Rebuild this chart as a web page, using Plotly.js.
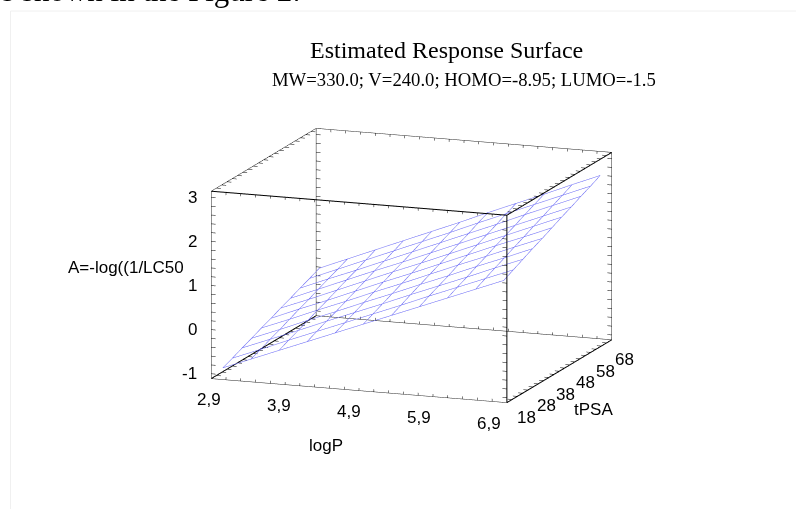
<!DOCTYPE html>
<html><head><meta charset="utf-8">
<script src="https://cdn.plot.ly/plotly-3.0.1.min.js"></script>
<style>html,body{margin:0;padding:0;background:#fff}#c{width:796px;height:509px}</style>
</head><body><div id="c"></div>
<script>
const logPGrid = [3.0,3.38,3.76,4.14,4.52,4.9,5.28,5.66,6.04,6.42,6.8];
const tPSAGrid = [20,24.6,29.2,33.8,38.4,43,47.6,52.2,56.8,61.4,66];
const responseZ = [
 [-0.91,-0.66,-0.41,-0.16,0.09,0.34,0.59,0.84,1.09,1.34,1.59],
 [-0.82,-0.57,-0.31,-0.06,0.19,0.44,0.69,0.95,1.20,1.45,1.70],
 [-0.72,-0.47,-0.22,0.04,0.29,0.54,0.80,1.05,1.30,1.56,1.81],
 [-0.63,-0.38,-0.12,0.13,0.39,0.64,0.90,1.15,1.41,1.66,1.92],
 [-0.53,-0.28,-0.02,0.23,0.49,0.74,1.00,1.26,1.51,1.77,2.02],
 [-0.44,-0.18,0.07,0.33,0.59,0.84,1.10,1.36,1.62,1.87,2.13],
 [-0.34,-0.09,0.17,0.43,0.69,0.94,1.20,1.46,1.72,1.98,2.24],
 [-0.25,0.01,0.27,0.53,0.78,1.04,1.30,1.56,1.82,2.08,2.34],
 [-0.15,0.11,0.36,0.62,0.88,1.14,1.40,1.66,1.93,2.19,2.45],
 [-0.06,0.20,0.46,0.72,0.98,1.24,1.51,1.77,2.03,2.29,2.55],
 [0.04,0.30,0.56,0.82,1.08,1.34,1.61,1.87,2.13,2.40,2.66]
];
const logPTicks = [2.9,3.9,4.9,5.9,6.9];
const logPLabels = ['2,9','3,9','4,9','5,9','6,9'];
const tPSATicks = [18,28,38,48,58,68];
const zTicks = [-1,0,1,2,3];
const xRange=[2.9,6.9], yRange=[18,68], zRange=[-1.11,3.14];
const zMinor=[];for(let v=-10;v<=31;v+=2)zMinor.push(v/10);
const xMinor=[];for(let v=29;v<=69;v+=2)xMinor.push(v/10);
const yMinor=[];for(let v=18;v<=68;v+=2.5)yMinor.push(v);

const [x0,x1]=xRange,[y0,y1]=yRange,[z0,z1]=zRange;
function path(pts){const o={x:[],y:[],z:[]};pts.forEach(s=>{s.forEach(p=>{o.x.push(p[0]);o.y.push(p[1]);o.z.push(p[2]);});o.x.push(null);o.y.push(null);o.z.push(null);});return o;}
// wireframe
const wire=[];
tPSAGrid.forEach((t,j)=>wire.push(logPGrid.map((p,i)=>[p,t,responseZ[j][i]])));
logPGrid.forEach((p,i)=>wire.push(tPSAGrid.map((t,j)=>[p,t,responseZ[j][i]])));
// box edges
const thin=[
 [[x0,y0,z0],[x1,y0,z0]],[[x0,y1,z0],[x1,y1,z0]],[[x0,y1,z1],[x1,y1,z1]],
 [[x0,y0,z0],[x0,y0,z1]],[[x0,y1,z0],[x0,y1,z1]],[[x1,y1,z0],[x1,y1,z1]],
 [[x0,y0,z1],[x0,y1,z1]]];
const heavy=[
 [[x0,y0,z1],[x1,y0,z1]],[[x1,y0,z0],[x1,y0,z1]],[[x1,y0,z1],[x1,y1,z1]],
 [[x0,y0,z0],[x0,y1,z0]],[[x1,y0,z0],[x1,y1,z0]]];
// tick marks on every edge
const tk=[];const dx=0.06,dz=0.06;
zMinor.forEach(v=>{[[x0,y0,1],[x0,y1,1],[x1,y0,-1],[x1,y1,-1]].forEach(e=>tk.push([[e[0],e[1],v],[e[0]+e[2]*dx,e[1],v]]));});
yMinor.forEach(v=>{[[x0,z0,1],[x0,z1,1],[x1,z0,-1],[x1,z1,-1]].forEach(e=>tk.push([[e[0],v,e[1]],[e[0]+e[2]*dx,v,e[1]]]));});
xMinor.forEach(v=>{[[y0,z0,1],[y0,z1,-1],[y1,z0,1],[y1,z1,-1]].forEach(e=>tk.push([[v,e[0],e[1]],[v,e[0],e[1]+e[2]*dz]]));});
const l3=(o,c,w)=>Object.assign({type:'scatter3d',mode:'lines',hoverinfo:'skip',showlegend:false,line:{color:c,width:w},connectgaps:false},o);

const fnt={family:'Liberation Sans, Arial, sans-serif',size:17,color:'#000'};
const serif='Liberation Serif, Times New Roman, serif';
const sceneAnn=[];
logPTicks.forEach((v,i)=>sceneAnn.push({x:v,y:y0,z:z0,text:logPLabels[i],showarrow:false,font:fnt,xanchor:'center',yanchor:'middle',xshift:-2-i*4,yshift:-20.5}));
tPSATicks.forEach((v,i)=>sceneAnn.push({x:x1,y:v,z:z0,text:String(v),showarrow:false,font:fnt,xanchor:'center',yanchor:'middle',xshift:20-i*1.4,yshift:-14.5-i*1.1}));
zTicks.forEach(v=>sceneAnn.push({x:x0,y:y0,z:v,text:String(v),showarrow:false,font:fnt,xanchor:'right',yanchor:'middle',xshift:-12,yshift:0}));
const ax=(range,pad)=>({title:{text:''},range:[range[0]-pad,range[1]+pad],autorange:false,showticklabels:false,ticks:'',showgrid:false,zeroline:false,showbackground:false,showline:false,showspikes:false});
const data=[
 l3(path(wire),'rgb(100,100,245)',1),
 l3(path(thin),'#222',1),
 l3(path(heavy),'#000',2),
 l3(path(tk),'#000',1)
];
const k=3;
const layout={width:796,height:509,margin:{l:0,r:0,t:0,b:0},paper_bgcolor:'#fff',showlegend:false,
 scene:{domain:{x:[0.2,0.834],y:[0.1,0.856]},aspectmode:'manual',aspectratio:{x:1.64,y:1.58,z:1.0},
  camera:{projection:{type:'orthographic'},up:{x:0,y:0,z:1},center:{x:0,y:0,z:0},eye:{x:0.337*k,y:-0.915*k,z:0.2206*k}},
  xaxis:ax(xRange,0.004),yaxis:ax(yRange,0.05),zaxis:ax(zRange,0.004),
  annotations:sceneAnn},
 shapes:[{type:'line',xref:'paper',yref:'paper',x0:10.5/796,x1:10.5/796,y0:0,y1:1-11/509,line:{color:'#f0f0f0',width:1}},
         {type:'line',xref:'paper',yref:'paper',x0:10.5/796,x1:1,y0:1-11/509,y1:1-11/509,line:{color:'#f0f0f0',width:1}}],
 annotations:[
  {xref:'paper',yref:'paper',x:446.7/796,y:1-50/509,text:'Estimated Response Surface',showarrow:false,font:{family:serif,size:24,color:'#000'},xanchor:'center',yanchor:'middle'},
  {xref:'paper',yref:'paper',x:464.5/796,y:1-80/509,text:'MW=330.0; V=240.0; HOMO=-8.95; LUMO=-1.5',showarrow:false,font:{family:serif,size:18.7,color:'#000'},xanchor:'center',yanchor:'middle'},
  {xref:'paper',yref:'paper',x:326/796,y:1-445/509,text:'logP',showarrow:false,font:fnt,xanchor:'center',yanchor:'middle'},
  {xref:'paper',yref:'paper',x:593/796,y:1-409/509,text:'tPSA',showarrow:false,font:fnt,xanchor:'center',yanchor:'middle'},
  {xref:'paper',yref:'paper',x:126/796,y:1-267/509,text:'A=-log((1/LC50',showarrow:false,font:fnt,xanchor:'center',yanchor:'middle'},
  {xref:'paper',yref:'paper',x:0,y:1-(-9.5)/509,text:'s shown in the Figure 2:',showarrow:false,font:{family:serif,size:31,color:'#000'},xanchor:'left',yanchor:'middle'}
 ]};
Plotly.newPlot('c',data,layout,{displayModeBar:false});
</script></body></html>
